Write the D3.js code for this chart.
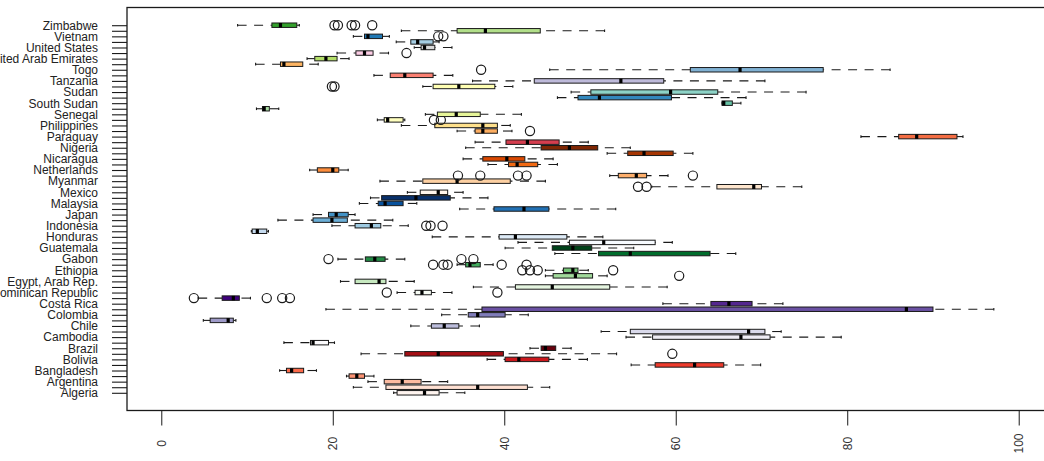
<!DOCTYPE html>
<html>
<head>
<meta charset="utf-8">
<script src="https://cdn.jsdelivr.net/npm/d3@7"></script>
<style>
  body { margin: 0; background: #fff; }
  text { font-family: "Liberation Sans", Arial, sans-serif; }
</style>
</head>
<body>
<script>
// groups, bottom to top (same order as the boxplot)
let countries = ["Algeria", "Angola", "Argentina", "Australia", "Bangladesh", "Benin", "Bolivia", "Botswana", "Brazil",
  "Burkina Faso", "Cambodia", "Cameroon", "Chile", "China", "Colombia", "Congo, Rep.", "Costa Rica", "Cote d'Ivoire",
  "Dominican Republic", "Ecuador", "Egypt, Arab Rep.", "El Salvador", "Ethiopia", "France", "Gabon", "Ghana", "Guatemala",
  "Haiti", "Honduras", "India", "Indonesia", "Jamaica", "Japan", "Kenya", "Malaysia", "Mali",
  "Mexico", "Morocco", "Myanmar", "Nepal", "Netherlands", "New Zealand", "Nicaragua", "Niger", "Nigeria",
  "Pakistan", "Paraguay", "Peru", "Philippines", "Rwanda", "Senegal", "South Africa", "South Sudan", "Sri Lanka",
  "Sudan", "Tajikistan", "Tanzania", "Thailand", "Togo", "Uganda", "United Arab Emirates", "United Kingdom", "United States",
  "Uruguay", "Vietnam", "Zambia", "Zimbabwe"]

let whiskerLow = [27.1, 22.4, 24.1, 21.6, 13.8, 54.8, 38.0, 23.3, 43.0,
  14.3, 54.2, 51.3, 29.1, 4.9, 32.7, 19.2, 58.5, 4.3,
  27.5, 36.4, 20.9, 44.8, 44.8, 34.5, 20.6, 45.9, 40.1,
  41.6, 31.6, 10.5, 19.9, 13.6, 17.7, 34.8, 23.1, 24.4,
  28.7, 57.2, 25.5, 52.3, 17.3, 38.1, 35.2, 52.0, 35.5,
  36.6, 81.6, 34.5, 28.0, 25.2, 30.8, 11.1, 65.4, 46.2,
  47.8, 30.5, 36.3, 24.8, 45.3, 11.0, 17.0, 20.5, 29.5,
  27.4, 22.4, 28.0, 8.9]
let q1 = [27.5, 26.2, 26.0, 21.9, 14.6, 57.6, 40.1, 28.4, 44.3,
  17.4, 57.3, 54.7, 31.5, 5.7, 35.8, 37.4, 64.1, 7.1,
  29.6, 41.3, 22.6, 45.7, 46.9, 35.5, 23.8, 51.0, 45.6,
  47.6, 39.4, 10.6, 22.6, 17.7, 19.5, 38.8, 25.3, 25.7,
  30.2, 64.8, 30.5, 53.3, 18.2, 40.5, 37.5, 54.4, 44.3,
  40.2, 86.0, 36.6, 31.9, 26.0, 32.2, 11.8, 65.4, 48.6,
  50.1, 31.7, 43.5, 26.7, 61.7, 13.9, 17.9, 22.7, 30.3,
  29.1, 23.7, 34.5, 12.9]
let median = [30.7, 36.9, 28.1, 22.8, 15.2, 62.2, 41.7, 32.3, 44.8,
  17.7, 67.6, 68.5, 33.0, 7.8, 36.9, 86.9, 66.2, 8.4,
  30.4, 45.6, 25.4, 48.3, 48.0, 36.0, 24.9, 54.7, 48.0,
  51.6, 41.3, 11.2, 24.5, 19.9, 20.4, 42.3, 26.1, 29.7,
  32.3, 69.1, 34.5, 55.4, 20.0, 41.5, 40.3, 56.3, 47.6,
  42.7, 88.1, 37.5, 37.5, 26.4, 34.4, 12.0, 65.6, 51.1,
  59.4, 34.7, 53.6, 28.4, 67.5, 14.3, 19.2, 23.7, 30.7,
  29.9, 24.1, 37.8, 13.9]
let q3 = [32.4, 42.7, 30.3, 23.7, 16.6, 65.6, 45.2, 39.9, 46.0,
  19.5, 71.0, 70.4, 34.7, 8.4, 40.1, 90.0, 68.9, 9.1,
  31.5, 52.3, 26.2, 50.3, 48.6, 37.2, 26.1, 64.0, 50.2,
  57.6, 47.3, 12.3, 25.6, 21.7, 21.8, 45.2, 28.2, 33.7,
  33.4, 70.0, 40.7, 56.6, 20.7, 43.9, 42.4, 59.7, 50.9,
  46.4, 92.8, 39.2, 39.2, 28.2, 37.2, 12.6, 66.6, 59.5,
  64.9, 38.9, 58.6, 31.7, 77.2, 16.5, 20.5, 24.7, 31.9,
  31.7, 25.8, 44.2, 15.8]
let whiskerHigh = [35.4, 45.3, 33.4, 24.8, 18.1, 69.9, 49.7, 53.1, 47.8,
  20.2, 79.3, 72.3, 37.1, 8.7, 42.8, 97.1, 72.5, 10.4,
  33.9, 59.0, 29.5, 52.0, 49.8, 38.7, 28.4, 67.0, 55.1,
  59.6, 51.5, 12.5, 28.8, 27.0, 22.6, 53.0, 29.8, 38.1,
  35.2, 74.7, 44.8, 59.1, 21.8, 46.2, 45.7, 62.0, 54.7,
  49.8, 93.5, 40.9, 40.7, 28.4, 42.0, 13.7, 67.6, 68.2,
  75.2, 41.0, 70.4, 34.0, 85.0, 18.3, 21.9, 26.5, 33.9,
  32.4, 26.6, 51.7, 16.1]
let outliers = [[], [], [], [], [], [], [], [59.6], [],
  [], [], [], [], [], [], [], [], [3.8, 12.3, 14.1, 15.0],
  [26.3, 39.2], [], [], [60.4], [42.1, 43.0, 43.9, 52.7], [31.7, 32.9, 33.4, 39.7, 42.6], [19.5, 35.0, 36.4], [], [],
  [], [], [], [30.9, 31.4, 32.8], [], [], [], [], [],
  [], [55.6, 56.6], [], [34.6, 37.2, 41.6, 42.6, 62.0], [], [], [], [], [],
  [], [], [43.0], [], [31.8, 32.6], [], [], [], [],
  [], [19.9, 20.2], [], [], [37.3], [], [], [28.6], [],
  [], [32.3, 32.9], [], [20.2, 20.6, 22.2, 22.6, 24.6]]

let xTicks = [0, 20, 40, 60, 80, 100]

// brewer palettes, nine boxes each, then four from Paired
let fills = [].concat(d3.schemeReds[9], d3.schemePurples[9], d3.schemeGreens[9], d3.schemeBlues[9],
  d3.schemeOranges[9], d3.schemeSpectral[9], d3.schemeSet3.slice(0, 9), d3.schemePaired.slice(0, 4))

let W = 1044, H = 461
let plot = {left: 127, right: 1053, top: 7.5, bottom: 410.5}
let n = countries.length
let ink = "#1a1a1a"

let svg = d3.select("body").append("svg")
  .attr("width", W)
  .attr("height", H)

// R style: 4% padding round the group range
let x = d3.scaleLinear().domain([-4, 104]).range([plot.left, plot.right])
let y = d3.scaleLinear().domain([0.5 - 0.04 * n, n + 0.5 + 0.04 * n]).range([plot.bottom, plot.top])

let unit = y(0) - y(1)
let half = unit * 0.4
let cap = unit * 0.3

let rows = countries.map((c, i) => ({
  name: c, pos: i + 1, lo: whiskerLow[i], q1: q1[i], med: median[i], q3: q3[i], hi: whiskerHigh[i],
  out: outliers[i], fill: fills[i]
}))

let g = svg.selectAll(".bx")
  .data(rows)
  .enter()
  .append("g")
  .attr("class", "bx")
  .attr("transform", d => "translate(0," + y(d.pos) + ")")

// whiskers (dashed), drawn from the end towards the box
g.append("line")
  .attr("x1", d => x(d.lo)).attr("x2", d => x(d.q1))
  .attr("stroke", ink).attr("stroke-width", 1.1).attr("stroke-dasharray", "9,7.5")
g.append("line")
  .attr("x1", d => x(d.hi)).attr("x2", d => x(d.q3))
  .attr("stroke", ink).attr("stroke-width", 1.1).attr("stroke-dasharray", "9,7.5")

// staples
g.selectAll(".cap")
  .data(d => [d.lo, d.hi])
  .enter()
  .append("line")
  .attr("x1", v => x(v)).attr("x2", v => x(v))
  .attr("y1", -cap / 2 - 0.5).attr("y2", cap / 2 + 0.5)
  .attr("stroke", ink).attr("stroke-width", 1.1)

g.append("rect")
  .attr("x", d => x(d.q1))
  .attr("y", -half)
  .attr("width", d => Math.max(0.5, x(d.q3) - x(d.q1)))
  .attr("height", half * 2)
  .attr("fill", d => d.fill)
  .attr("stroke", ink)
  .attr("stroke-width", 1)

g.append("line")
  .attr("x1", d => x(d.med)).attr("x2", d => x(d.med))
  .attr("y1", -half).attr("y2", half)
  .attr("stroke", "#000").attr("stroke-width", 3.2)

g.selectAll("circle")
  .data(d => d.out)
  .enter()
  .append("circle")
  .attr("cx", v => x(v))
  .attr("cy", 0)
  .attr("r", 4.6)
  .attr("fill", "none")
  .attr("stroke", ink)
  .attr("stroke-width", 1.2)

// left axis with every group ticked
let yAxis = d3.axisLeft(y)
  .tickValues(d3.range(1, n + 1))
  .tickSize(15)
  .tickPadding(14)
  .tickFormat(i => countries[i - 1])

let ya = svg.append("g")
  .attr("transform", "translate(" + plot.left + ",0)")
  .call(yAxis)
ya.select(".domain").remove()
ya.selectAll("line").attr("stroke", ink).attr("stroke-width", 1.1)
ya.selectAll("text").attr("font-size", 12).attr("fill", "#222")

// drop labels that would collide, like R does
let lastY = null
ya.selectAll(".tick").each(function(i) {
  let py = y(i)
  if (lastY !== null && Math.abs(lastY - py) < 10.5) {
    d3.select(this).select("text").remove()
  } else {
    lastY = py
  }
})

let xAxis = d3.axisBottom(x)
  .tickValues(xTicks)
  .tickSize(15)

let xa = svg.append("g")
  .attr("transform", "translate(0," + plot.bottom + ")")
  .call(xAxis)
xa.select(".domain").remove()
xa.selectAll("line").attr("stroke", ink).attr("stroke-width", 1)
xa.selectAll("text")
  .attr("font-size", 12)
  .attr("fill", "#333")
  .attr("text-anchor", "middle")
  .attr("x", 0).attr("y", 0)
  .attr("dy", "0.35em")
  .attr("transform", "translate(0,33) rotate(-90)")

// frame
svg.append("rect")
  .attr("x", plot.left).attr("y", plot.top)
  .attr("width", plot.right - plot.left).attr("height", plot.bottom - plot.top)
  .attr("fill", "none")
  .attr("stroke", ink)
  .attr("stroke-width", 1.3)
</script>
</body>
</html>
